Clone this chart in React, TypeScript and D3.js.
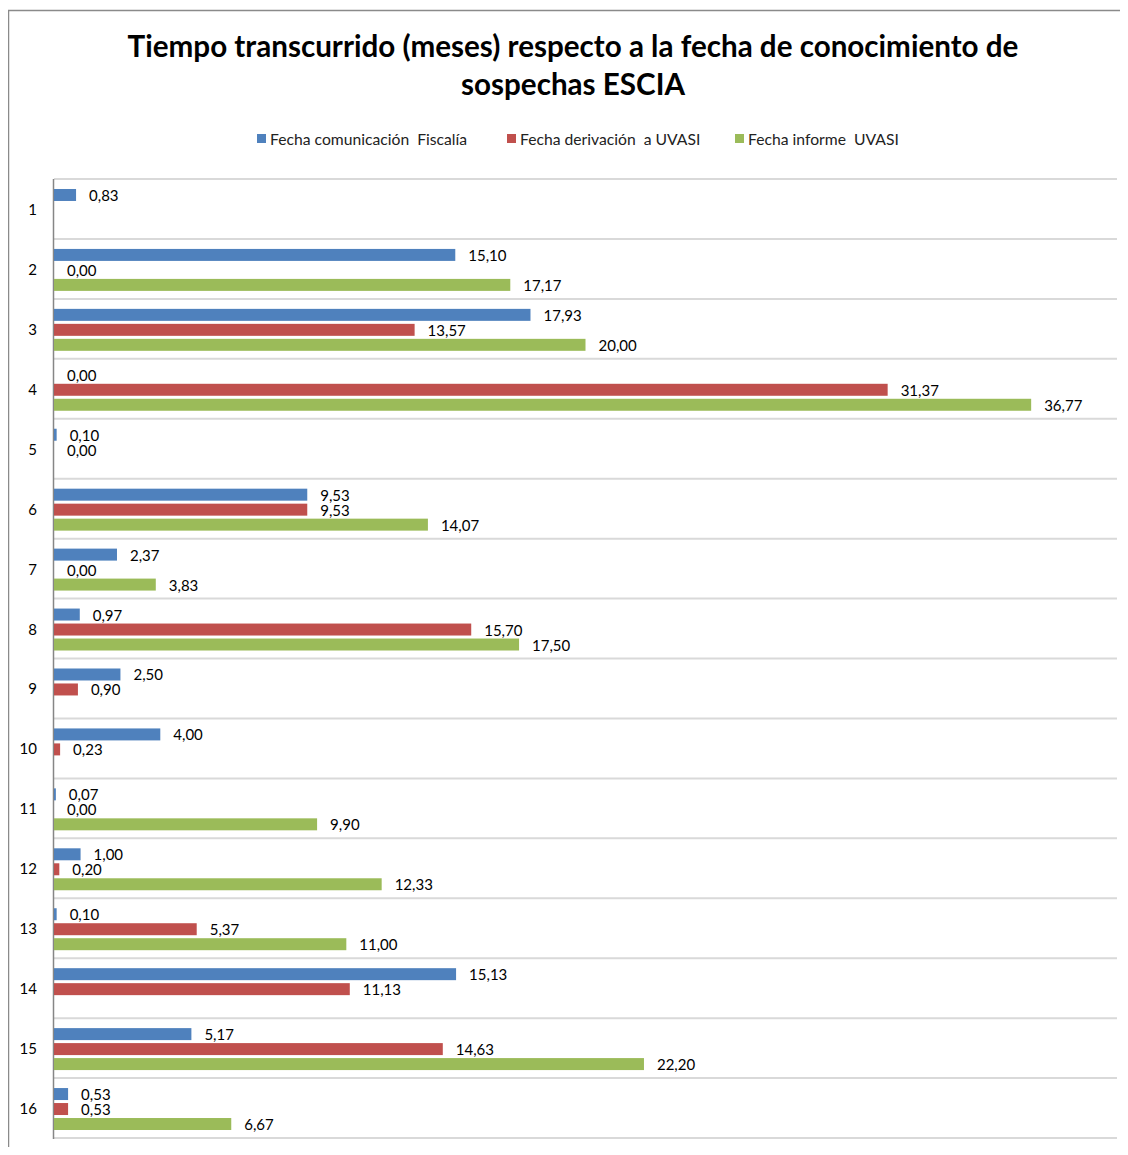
import { useEffect, useRef } from "react";
import * as d3 from "d3";

const categories = ["1", "2", "3", "4", "5", "6", "7", "8", "9", "10", "11", "12", "13", "14", "15", "16"];
const seriesNames = ["Fecha comunicación  Fiscalía", "Fecha derivación  a UVASI", "Fecha informe  UVASI"];
const seriesColors = ["#4F81BD", "#C0504D", "#9BBB59"];
// null = no value for that case
const fiscalia = [0.83, 15.1, 17.93, 0.0, 0.1, 9.53, 2.37, 0.97, 2.5, 4.0, 0.07, 1.0, 0.1, 15.13, 5.17, 0.53];
const derivacion = [null, 0.0, 13.57, 31.37, 0.0, 9.53, 0.0, 15.7, 0.9, 0.23, 0.0, 0.2, 5.37, 11.13, 14.63, 0.53];
const informe = [null, 17.17, 20.0, 36.77, null, 14.07, 3.83, 17.5, null, null, 9.9, 12.33, 11.0, null, 22.2, 6.67];
const titleLines = ["Tiempo transcurrido (meses) respecto a la fecha de conocimiento de", "sospechas ESCIA"];

const FONT = "Lato, 'Open Sans', sans-serif";

export default function App() {
  const svgRef = useRef<SVGSVGElement>(null);

  useEffect(() => {
    const svg = d3.select(svgRef.current);
    svg.selectAll("*").remove();

    const left = 54, right = 1117, top = 179, bottom = 1138;
    const series = [fiscalia, derivacion, informe];

    // chart frame (cut on right and bottom like the screenshot)
    svg.append("rect")
      .attr("x", 8.5).attr("y", 10.5)
      .attr("width", 1140).attr("height", 1160)
      .attr("fill", "#fff")
      .attr("stroke", "#8a8a8a")
      .attr("stroke-width", 1.5);

    svg.selectAll("text.title")
      .data(titleLines)
      .join("text")
      .attr("class", "title")
      .attr("x", 573)
      .attr("y", (d, i) => 57 + i * 38)
      .attr("text-anchor", "middle")
      .attr("font-family", FONT)
      .attr("font-size", "29.6px")
      .attr("font-weight", "bold")
      .attr("fill", "#000")
      .text(d => d);

    // legend
    const legendX = [257, 507, 735];
    const lg = svg.append("g");
    seriesNames.forEach((name, i) => {
      lg.append("rect")
        .attr("x", legendX[i]).attr("y", 134)
        .attr("width", 9).attr("height", 9)
        .attr("fill", seriesColors[i]);
      lg.append("text")
        .attr("x", legendX[i] + 13).attr("y", 144.5)
        .attr("font-family", FONT)
        .attr("font-size", "15.7px")
        .attr("fill", "#222")
        .style("white-space", "pre")
        .text(name);
    });

    const x = d3.scaleLinear().domain([0, 40]).range([left, right]);
    const y = d3.scaleBand().domain(categories).range([top, bottom]).padding(0);
    const inner = d3.scaleBand<number>()
      .domain([0, 1, 2])
      .range([0, y.bandwidth()])
      .paddingInner(0.2)
      .paddingOuter(0.6);

    // gridlines at category boundaries
    const bounds = categories.map(c => y(c)!).concat([bottom]);
    svg.append("g")
      .selectAll("line")
      .data(bounds)
      .join("line")
      .attr("x1", left).attr("x2", right)
      .attr("y1", d => d).attr("y2", d => d)
      .attr("stroke", "#d9d9d9")
      .attr("stroke-width", 2);

    // category axis
    svg.append("line")
      .attr("x1", left - 0.5).attr("x2", left - 0.5)
      .attr("y1", top).attr("y2", bottom + 1)
      .attr("stroke", "#868686")
      .attr("stroke-width", 1.5);

    svg.append("g")
      .selectAll("text")
      .data(categories)
      .join("text")
      .attr("x", 37)
      .attr("y", d => y(d)! + y.bandwidth() / 2 + 6)
      .attr("text-anchor", "end")
      .attr("font-family", FONT)
      .attr("font-size", "15px")
      .attr("fill", "#000")
      .text(d => d);

    const fmt = (v: number) => v.toFixed(2).replace(".", ",");

    series.forEach((vals, s) => {
      const pts = vals
        .map((v, i) => ({ v, cat: categories[i] }))
        .filter(p => p.v !== null) as { v: number; cat: string }[];
      const g = svg.append("g");
      g.selectAll("rect")
        .data(pts)
        .join("rect")
        .attr("x", x(0))
        .attr("y", d => y(d.cat)! + inner(s)! + 1)
        .attr("width", d => x(d.v) - x(0))
        .attr("height", inner.bandwidth())
        .attr("fill", seriesColors[s]);
      g.selectAll("text")
        .data(pts)
        .join("text")
        .attr("x", d => x(d.v) + 13)
        .attr("y", d => y(d.cat)! + inner(s)! + inner.bandwidth() / 2 + 7)
        .attr("font-family", FONT)
        .attr("font-size", "15px")
        .attr("fill", "#000")
        .text(d => fmt(d.v));
    });
  }, []);

  return <svg ref={svgRef} width={1128} height={1155} style={{ display: "block", margin: -8 }} />;
}
